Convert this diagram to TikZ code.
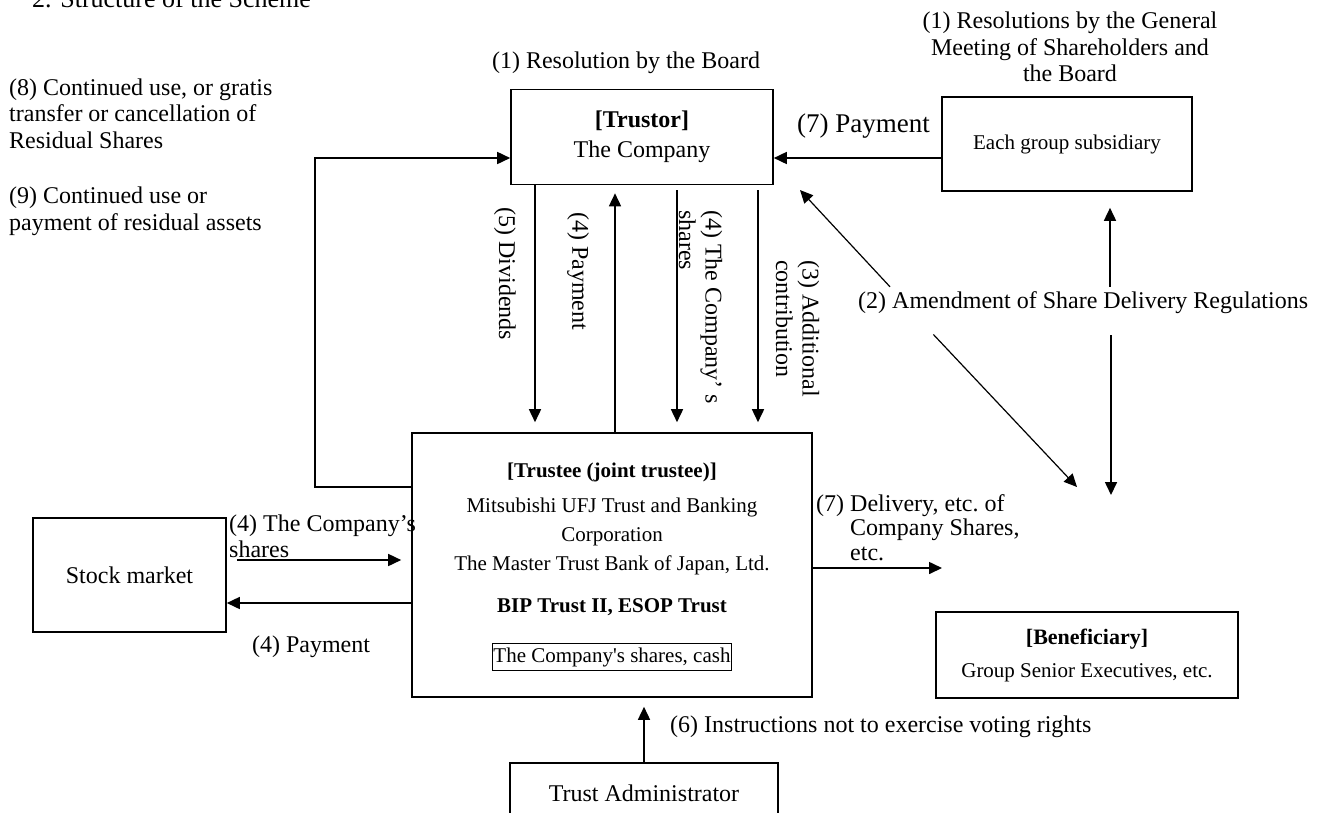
\documentclass[tikz,border=0pt]{standalone}
\usepackage{fontspec}
\setmainfont{Liberation Serif}
\usetikzlibrary{arrows.meta}

\begin{document}
\begin{tikzpicture}[x=1pt, y=-1pt,
      box/.style={draw, line width=1.6pt, inner sep=0pt, align=center},
      lbl/.style={inner sep=0pt, font=\fontsize{24}{26.5}\selectfont},
      small/.style={font=\fontsize{21}{29}\selectfont},
      arr/.style={line width=1.6pt, -{Triangle[length=13pt,width=12pt]}}
    ]
    \useasboundingbox (0,0) rectangle (1324,812);

    \node[lbl, anchor=base west, font=\fontsize{26}{30}\selectfont] (title) at (32,7) {2. Structure of the Scheme};

    \node[box, minimum width=262pt, minimum height=95pt, font=\fontsize{24}{30}\selectfont] (trustor) at (642,137) {\textbf{[Trustor]}\\The Company};
    \node[box, small, minimum width=250pt, minimum height=94pt] (sub) at (1067,144) {Each group subsidiary};
    \node[box, minimum width=400pt, minimum height=264pt] (trustee) at (612,565) {};
    \node[small, inner sep=0pt] (trtitle) at (612,472) {\textbf{[Trustee (joint trustee)]}};
    \node[small, inner sep=0pt, align=center] (banks) at (612,536) {Mitsubishi UFJ Trust and Banking\\Corporation\\The Master Trust Bank of Japan, Ltd.};
    \node[small, inner sep=0pt] (trusts) at (612,607) {\textbf{BIP Trust II, ESOP Trust}};
    \node[draw, line width=1.8pt, small, inner xsep=1pt, inner ysep=0pt, minimum height=27pt] (assets) at (612,657) {The Company\textquotesingle s shares, cash};
    \node[box, minimum width=193pt, minimum height=114pt, font=\fontsize{24}{26.5}\selectfont] (market) at (129.5,575) {Stock market};
    \node[box, minimum width=268pt, minimum height=60pt, font=\fontsize{24}{26.5}\selectfont] (admin) at (644,793) {Trust Administrator};
    \node[box, minimum width=302pt, minimum height=86pt, font=\fontsize{21}{33}\selectfont] (bene) at (1087,655) {{\bfseries\fontsize{22}{33}\selectfont [Beneficiary]}\\Group Senior Executives, etc.};

    \node[lbl] (lblboard) at (626,63) {(1) Resolution by the Board};
    \node[lbl, align=center] (lblgeneral) at (1070,47) {(1) Resolutions by the General\\Meeting of Shareholders and\\the Board};
    \node[lbl, anchor=east, font=\fontsize{27}{30}\selectfont] (lblpay7) at (930,126) {(7) Payment};
    \node[lbl, anchor=west, align=left] (lblresid) at (9,113.5) {(8) Continued use, or gratis\\transfer or cancellation of\\Residual Shares};
    \node[lbl, anchor=west, align=left] (lblassets) at (9,211.5) {(9) Continued use or\\payment of residual assets};
    \node[lbl, rotate=-90] (lbldiv) at (505,274) {(5) Dividends};
    \node[lbl, rotate=-90] (lblpayup) at (578,271) {(4) Payment};
    \node[lbl, rotate=-90, align=left] (lblsharesdown) at (700.5,307) {(4) The Company’ s\\shares};
    \node[lbl, rotate=-90, align=left] (lblcontrib) at (797.5,328.5) {(3) Additional\\contribution};
    \node[lbl, anchor=west, minimum height=32pt] (amend) at (858,303) {(2) Amendment of Share Delivery Regulations};
    \node[lbl, anchor=west, align=left, font=\fontsize{24}{24.5}\selectfont] (lbldeliv) at (816,527.5) {(7) Delivery, etc.\ of\\\hphantom{(7) }Company Shares,\\\hphantom{(7) }etc.};
    \node[lbl, anchor=west, align=left] (lblbuy) at (229,536.5) {(4) The Company’s\\shares};
    \node[lbl] (lblpaymkt) at (311,647) {(4) Payment};
    \node[lbl, anchor=west] (lblinstr) at (670,727) {(6) Instructions not to exercise voting rights};

    \coordinate (amtip) at (800,190);
    \coordinate (bentip1) at (1077,487);
    \coordinate (bentip2) at (1111,495);
    \coordinate (delivtip) at (942,568);

    \draw[arr] (sub.west |- 0,158) -- (trustor.east |- 0,158);
    \draw[arr] (trustee.west |- 0,487) -| (315,158) -- (trustor.west |- 0,158);
    \draw[arr, shorten >=10pt] (trustor.south -| 535,0) -- (trustee.north -| 535,0);
    \draw[arr, shorten >=8pt] (trustee.north -| 615,0) -- (trustor.south -| 615,0);
    \draw[arr, shorten <=5pt, shorten >=10pt] (trustor.south -| 677,0) -- (trustee.north -| 677,0);
    \draw[arr, shorten <=5pt, shorten >=10pt] (trustor.south -| 758,0) -- (trustee.north -| 758,0);

    \draw[arr, line width=1.2pt] (amend.north -| 890,0) -- (amtip);
    \draw[arr, shorten >=16pt] (amend.north -| 1110,0) -- (sub.south -| 1110,0);
    \draw[arr, line width=1.2pt, shorten <=21pt] (amend.south -| 919,0) -- (bentip1);
    \draw[arr, shorten <=16pt] (amend.south -| 1111,0) -- (bentip2);

    \draw[arr, shorten <=10pt, shorten >=10pt] (market.east |- 0,560) -- (trustee.west |- 0,560);
    \draw[arr] (trustee.west |- 0,603) -- (market.east |- 0,603);
    \draw[arr] (trustee.east |- 0,568) -- (delivtip);
    \draw[arr, shorten >=9pt] (admin.north) -- (trustee.south -| admin.north);

  \end{tikzpicture}
\end{document}
